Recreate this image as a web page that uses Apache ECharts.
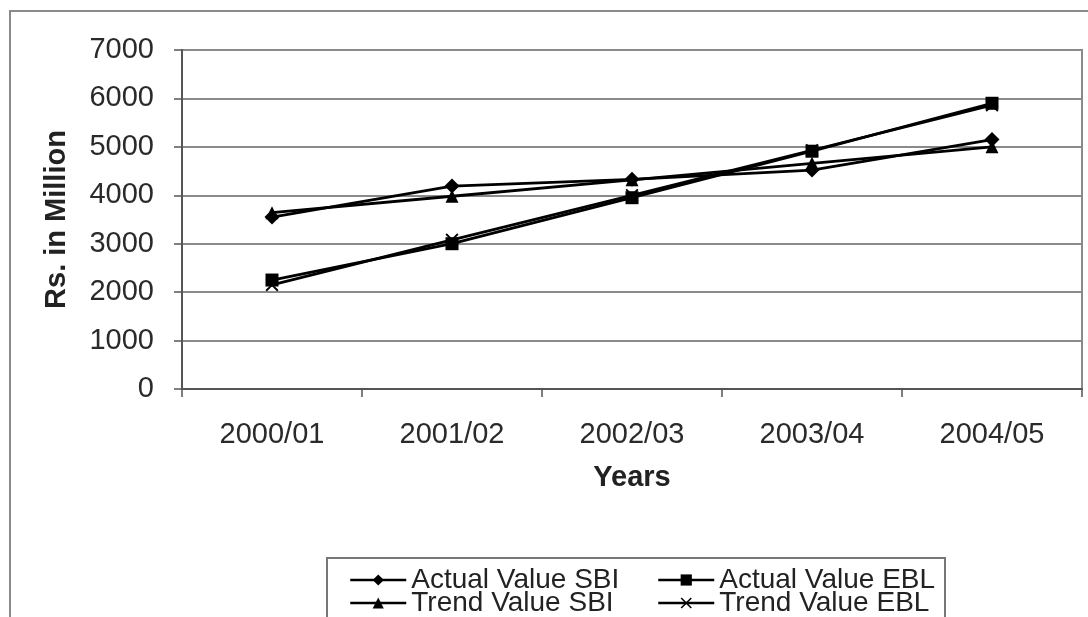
<!DOCTYPE html>
<html>
<head>
<meta charset="utf-8">
<script src="https://cdn.jsdelivr.net/npm/echarts@6/dist/echarts.min.js"></script>
<style>
  html, body { margin: 0; padding: 0; background: #fff; }
  #chart { width: 1088px; height: 617px; }
</style>
</head>
<body>
<div id="chart"></div>
<script>
// Financial years on the category axis
const years = ['2000/01', '2001/02', '2002/03', '2003/04', '2004/05'];

// Values in Rs. million
const actualSBI = [3550, 4190, 4330, 4520, 5150];
const actualEBL = [2250, 3000, 3950, 4910, 5900];
const trendSBI  = [3640, 3980, 4320, 4660, 5000];
const trendEBL  = [2150, 3080, 4000, 4930, 5860];

// Value-axis range
const yMin = 0, yMax = 7000, yStep = 1000;

const FONT = '"Liberation Sans", Arial, sans-serif';
const crossSymbol = 'path://M0,1 L1,0 L5,4 L9,0 L10,1 L6,5 L10,9 L9,10 L5,6 L1,10 L0,9 L4,5 Z';

function lineSeries(name, data, symbol, size) {
  return {
    name: name,
    type: 'line',
    data: data,
    symbol: symbol,
    symbolSize: size,
    showAllSymbol: true,
    lineStyle: { color: '#000', width: 2.8 },
    itemStyle: { color: '#000', borderColor: '#000', borderWidth: 0 },
    emphasis: { disabled: true },
    animation: false
  };
}

// One legend entry per block so the four entries sit in a fixed 2x2 layout
function legendEntry(name, left, top) {
  return {
    left: left, top: top,
    itemWidth: 56, itemHeight: 14,
    selectedMode: false,
    padding: 0,
    lineStyle: { width: 2.5, color: '#000' },
    textStyle: { fontFamily: FONT, fontSize: 28, color: '#222', lineHeight: 23 },
    data: [name]
  };
}

const chart = echarts.init(document.getElementById('chart'), null, { renderer: 'canvas' });

chart.setOption({
  backgroundColor: '#fff',
  animation: false,
  graphic: [
    { type: 'rect', shape: { x: 10, y: 11, width: 1100, height: 700 },
      style: { fill: 'none', stroke: '#8a8a8a', lineWidth: 2 }, silent: true, z: -10 },
    { type: 'rect', shape: { x: 327, y: 558, width: 618, height: 90 },
      style: { fill: 'none', stroke: '#777', lineWidth: 2 }, silent: true, z: -5 }
  ],
  grid: {
    left: 182, right: 6, top: 50, bottom: 228,
    show: true, borderColor: '#8a8a8a', borderWidth: 2, backgroundColor: 'transparent'
  },
  xAxis: {
    type: 'category',
    data: years,
    boundaryGap: true,
    name: 'Years',
    nameLocation: 'middle',
    nameGap: 74,
    nameTextStyle: { fontFamily: FONT, fontSize: 29, fontWeight: 'bold', color: '#222' },
    axisLine: { lineStyle: { color: '#555', width: 2 } },
    axisTick: { show: true, length: 8, lineStyle: { color: '#555', width: 1.5 } },
    axisLabel: { fontFamily: FONT, fontSize: 29, color: '#2a2a2a', margin: 31 },
    splitLine: { show: false }
  },
  yAxis: {
    type: 'value',
    min: yMin, max: yMax, interval: yStep,
    name: 'Rs. in Million',
    nameLocation: 'middle',
    nameRotate: 90,
    nameGap: 111,
    nameTextStyle: { fontFamily: FONT, fontSize: 29, fontWeight: 'bold', color: '#222' },
    axisLine: { show: true, lineStyle: { color: '#555', width: 2 } },
    axisTick: { show: true, length: 8, lineStyle: { color: '#555', width: 1.5 } },
    axisLabel: { fontFamily: FONT, fontSize: 29, color: '#2a2a2a', margin: 28,
                 formatter: function (v) { return String(v); } },
    splitLine: { show: true, lineStyle: { color: '#8a8a8a', width: 2 } }
  },
  legend: [
    legendEntry('Actual Value SBI', 349, 566),
    legendEntry('Trend Value SBI', 349, 589),
    legendEntry('Actual Value EBL', 657, 566),
    legendEntry('Trend Value EBL', 657, 589)
  ],
  series: [
    lineSeries('Actual Value SBI', actualSBI, 'diamond', 15),
    lineSeries('Actual Value EBL', actualEBL, 'rect', 13),
    lineSeries('Trend Value SBI', trendSBI, 'triangle', 13),
    lineSeries('Trend Value EBL', trendEBL, crossSymbol, 13)
  ]
});
</script>
</body>
</html>
